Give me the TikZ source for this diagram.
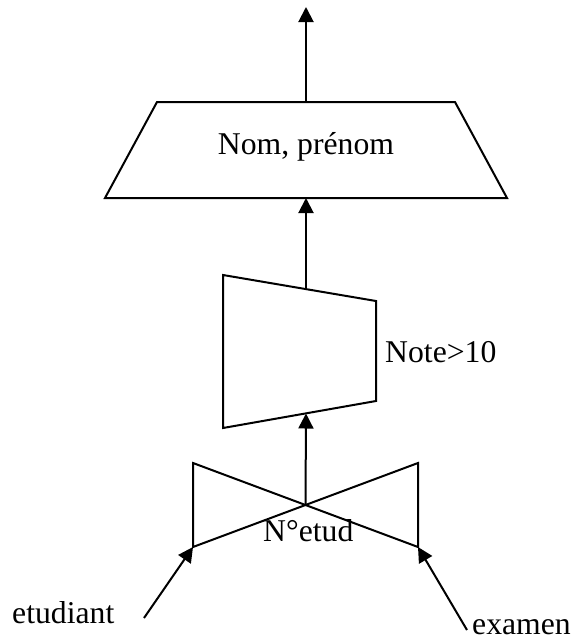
\documentclass[tikz,border=0pt]{standalone}
\usepackage{fontspec}
\setmainfont{Liberation Serif}
\usetikzlibrary{arrows.meta}
\begin{document}
\begin{tikzpicture}[x=1pt,y=-1pt,
  shapeline/.style={line width=2pt, line join=miter},
  flow/.style={line width=2pt, -{Triangle[length=15pt,width=15pt]}},
  lbl/.style={anchor=base west, inner sep=0pt, font=\fontsize{31.7}{38}\selectfont}]
  \useasboundingbox (0,0) rectangle (571,641);

  % projection: Nom, prenom
  \coordinate (tA) at (157,102); \coordinate (tB) at (455,102);
  \coordinate (tC) at (507,198); \coordinate (tD) at (105,198);
  \draw[shapeline] (tA) -- (tB) -- (tC) -- (tD) -- cycle;
  \node[anchor=base, inner sep=0pt, font=\fontsize{31.7}{38}\selectfont] (proj) at (306,154) {Nom, prénom};
  \coordinate (projtop) at (306,102);
  \coordinate (projbot) at (306,198);
  \coordinate (out) at (306,7);

  % selection: Note>10
  \coordinate (sA) at (223,275); \coordinate (sB) at (376,301);
  \coordinate (sC) at (376,401); \coordinate (sD) at (223,428);
  \draw[shapeline] (sA) -- (sB) -- (sC) -- (sD) -- cycle;
  \node[lbl] (cond) at (385,362) {Note>10};
  \coordinate (seltop) at (306,289);
  \coordinate (selbot) at (306,413.5);

  % join on N°etud
  \coordinate (jLT) at (193,463); \coordinate (jLB) at (193,547);
  \coordinate (jRT) at (418,463); \coordinate (jRB) at (418,547);
  \coordinate (jc) at (305.5,505);
  \draw[shapeline] (jLT) -- (jRB) -- (jRT) -- (jLB) -- cycle;
  \node[lbl] (key) at (263,541) {N°etud};

  % inputs
  \coordinate (etu) at (144,618);
  \coordinate (exa) at (467,630);
  \node[lbl] (etulbl) at (12,623) {etudiant};
  \node[lbl] (exalbl) at (472,634) {examen};

  % flows
  \draw[flow] (etu) -- (jLB);
  \draw[flow] (exa) -- (jRB);
  \draw[flow] (jc) -- (selbot);
  \draw[flow] (seltop) -- (projbot);
  \draw[flow] (projtop) -- (out);
\end{tikzpicture}
\end{document}
